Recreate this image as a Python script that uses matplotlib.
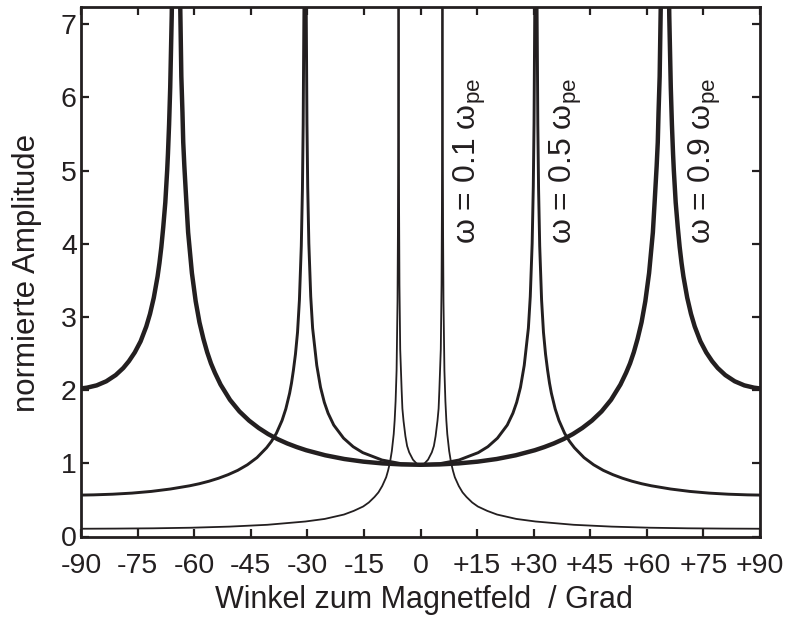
import numpy as np
import matplotlib
matplotlib.use("Agg")
import matplotlib.pyplot as plt

plt.rcParams["font.family"] = ["Liberation Sans", "DejaVu Sans"]
plt.rcParams["mathtext.default"] = "regular"

# readings, positive half (curves are symmetric about 0 deg)
ang_01 = [0, 1, 2, 3, 3.55, 4, 4.5, 4.8, 5, 5.38, 5.58, 5.68, 5.73, 5.79, 5.83,
          5.89, 5.94, 5.99, 6.09, 6.34, 6.6, 6.85, 7.1, 7.6, 8.1, 8.6, 9.1, 10.15,
          11.15, 12.2, 13.7, 15.2, 17.7, 20.3, 25.4, 30.5, 40.6, 50.7, 60.8, 70.9,
          80.9, 90]
amp_01 = [0.98, 0.995, 1.05, 1.15, 1.237, 1.37, 1.58, 1.748, 2.0, 2.56, 3.44,
          4.49, 5.6, 8.4, 12.0, 6.72, 4.97, 4.12, 3.22, 2.27, 1.85, 1.587, 1.40,
          1.168, 1.01, 0.90, 0.81, 0.69, 0.603, 0.54, 0.465, 0.41, 0.35, 0.30,
          0.24, 0.205, 0.16, 0.135, 0.12, 0.112, 0.108, 0.106]

ang_05 = [0, 5.1, 10.2, 15.3, 17.85, 20.4, 23.0, 24.5, 25.5, 26.5, 27.5, 28.6,
          29.1, 29.6, 29.9, 30.1, 30.3, 30.6, 30.9, 31.1, 31.3, 31.6, 32.1, 32.6,
          33.15, 33.7, 34.2, 34.7, 35.7, 36.7, 38.2, 39.5, 40.8, 43.35, 45.9,
          48.45, 51.0, 53.55, 56.1, 58.65, 61.2, 66.3, 71.4, 76.5, 81.6, 86.7, 90]
amp_05 = [0.98, 0.995, 1.045, 1.146, 1.227, 1.344, 1.523, 1.685, 1.834, 2.038,
          2.339, 2.848, 3.279, 4.006, 4.78, 5.65, 7.28, 12.0, 7.26, 5.63, 4.75,
          3.97, 3.23, 2.79, 2.491, 2.269, 2.096, 1.957, 1.744, 1.586, 1.411, 1.301,
          1.213, 1.078, 0.98, 0.904, 0.845, 0.796, 0.755, 0.721, 0.693, 0.649,
          0.616, 0.593, 0.578, 0.569, 0.566]

ang_09 = [0, 5.05, 10.1, 15.15, 20.2, 25.25, 30.3, 32.8, 35.35, 37.9, 40.4, 42.9,
          45.45, 48.0, 50.5, 53.0, 54.5, 55.55, 56.55, 57.55, 58.6, 59.6, 60.6,
          61.6, 62.1, 62.6, 62.9, 63.1, 63.4, 63.6, 63.95, 64.8, 65.65, 65.95,
          66.35, 66.65, 66.95, 67.15, 67.65, 68.2, 68.7, 69.2, 69.7, 70.7, 71.7,
          72.7, 74.2, 75.75, 77.3, 78.8, 80.8, 83.3, 85.85, 88.4, 90]
amp_09 = [0.98, 0.985, 0.999, 1.023, 1.059, 1.110, 1.179, 1.222, 1.272, 1.331,
          1.400, 1.483, 1.584, 1.709, 1.867, 2.076, 2.237, 2.366, 2.518, 2.701,
          2.927, 3.215, 3.601, 4.156, 4.598, 5.058, 5.388, 5.789, 6.284, 6.950,
          8.09, 12.0, 8.26, 7.11, 6.137, 5.628, 5.230, 5.009, 4.565, 4.226, 3.957,
          3.738, 3.554, 3.264, 3.043, 2.869, 2.667, 2.515, 2.396, 2.302, 2.206,
          2.121, 2.065, 2.034, 2.023]

labels = ["0.1", "0.5", "0.9"]
label_x = [14.8, 40.2, 77.0]
xtick_vals = [-90, -75, -60, -45, -30, -15, 0, 15, 30, 45, 60, 75, 90]
xtick_text = ["-90", "-75", "-60", "-45", "-30", "-15", "0",
              "+15", "+30", "+45", "+60", "+75", "+90"]


def full(a, b):
    a = np.asarray(a, float)
    b = np.asarray(b, float)
    return np.concatenate([-a[::-1], a[1:]]), np.concatenate([b[::-1], b[1:]])


col = "#231f20"
fig = plt.figure(figsize=(7.91, 6.2), dpi=100)
ax = fig.add_axes([81 / 791, 1 - 536.5 / 620, 679 / 791, 529.8 / 620])

for (a, b), lw in zip([(ang_01, amp_01), (ang_05, amp_05), (ang_09, amp_09)],
                      [1.3, 2.1, 3.2]):
    x, y = full(a, b)
    ax.plot(x, y, color=col, lw=lw, solid_joinstyle="round")

for lab, lx in zip(labels, label_x):
    ax.text(lx, 4.0, "ω = " + lab + r" ω$_{pe}$", rotation=90,
            rotation_mode="anchor", ha="left", va="baseline",
            fontsize=23, color=col)

ax.set_xlim(-90, 90)
ax.set_ylim(0, 7.24)
ax.set_xticks(xtick_vals)
ax.set_xticklabels(xtick_text)
ax.set_yticks(range(8))
ax.tick_params(direction="in", top=True, right=True, length=6, width=1.6,
               labelsize=20.5, colors=col)
ax.tick_params(axis="x", pad=12)
ax.tick_params(axis="y", pad=3)
for s in ax.spines.values():
    s.set_linewidth(2.0)
    s.set_color(col)

fig.text(424 / 791, 1 - 608 / 620, "Winkel zum Magnetfeld  / Grad",
         ha="center", va="baseline", fontsize=22, color=col)
fig.text(35 / 791, 1 - 272.5 / 620, "normierte Amplitude", rotation=90,
         rotation_mode="anchor", ha="center", va="baseline", fontsize=22.5,
         color=col)

fig.savefig("out.png", dpi=100)
